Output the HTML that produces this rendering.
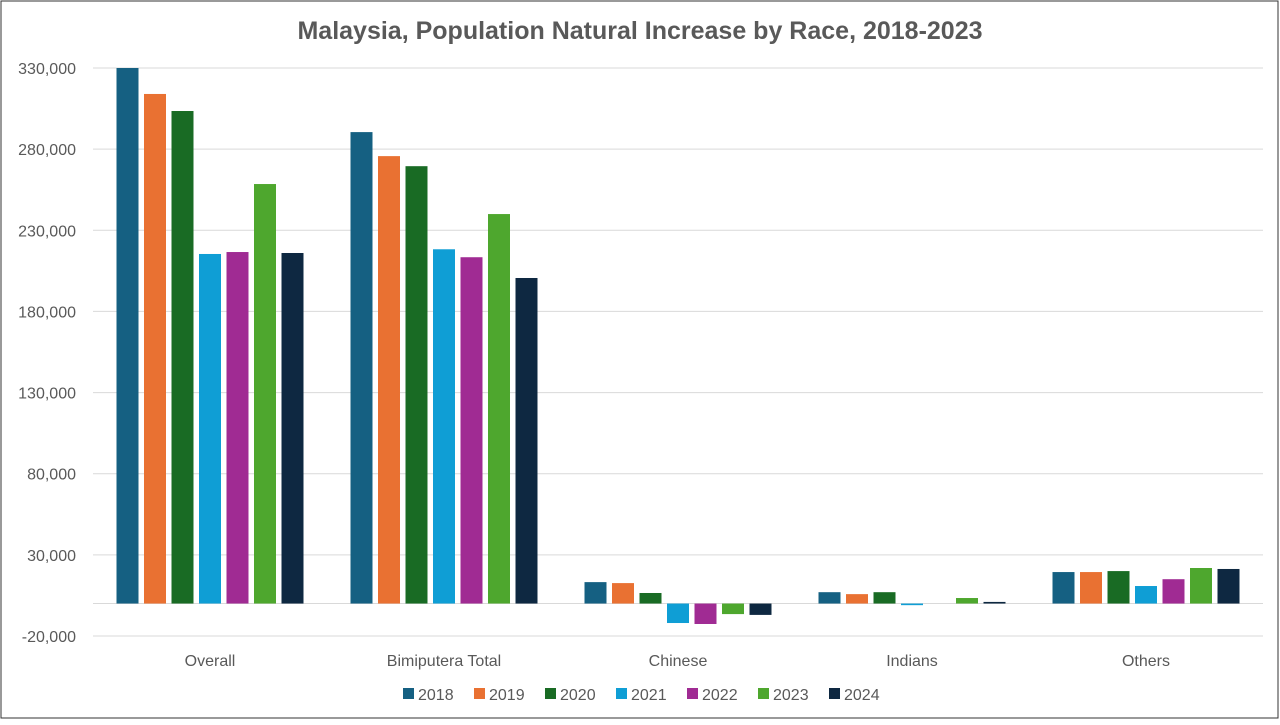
<!DOCTYPE html>
<html><head><meta charset="utf-8"><style>
body{margin:0;background:#fff;font-family:"Liberation Sans",sans-serif}
#wrap{position:relative;width:1280px;height:720px}
</style></head><body>
<div id="wrap">
<svg id="chart" width="1280" height="720">
<rect x="1" y="1" width="1277" height="717" fill="#fff" stroke="#333" stroke-width="1"/>
<text x="640" y="39" text-anchor="middle" font-size="25" font-weight="bold" fill="#595959">Malaysia, Population Natural Increase by Race, 2018-2023</text>
</svg>
</div>
<script>
const categories=["Overall","Bimiputera Total","Chinese","Indians","Others"];
const seriesNames=["2018","2019","2020","2021","2022","2023","2024"];
const colors=["#156082","#E97132","#196B24","#0F9ED5","#A02B93","#4EA72E","#0E2841"];
const v2018=[330000,290500,13200,7000,19400];
const v2019=[314000,275700,12600,5800,19400];
const v2020=[303500,269500,6500,7000,20000];
const v2021=[215400,218300,-12000,-1000,10800];
const v2022=[216600,213400,-12600,0,15000];
const v2023=[258500,240000,-6500,3400,21900];
const v2024=[216000,200600,-7000,1000,21300];
const yTicks=[-20000,30000,80000,130000,180000,230000,280000,330000];
const series=[v2018,v2019,v2020,v2021,v2022,v2023,v2024];
const svg=document.getElementById('chart');
const NS="http://www.w3.org/2000/svg";
const plotL=93,plotR=1263,yMin=-20000,yMax=330000,pxTop=68,pxBot=636;
const y=v=>pxBot-(v-yMin)/(yMax-yMin)*(pxBot-pxTop);
const bandW=(plotR-plotL)/categories.length;
const cx=i=>plotL+bandW*(i+0.5);
function mk(tag,attrs){const e=document.createElementNS(NS,tag);for(const k in attrs)e.setAttribute(k,attrs[k]);svg.appendChild(e);return e;}
yTicks.forEach(t=>{
  const g=mk('line',{x1:plotL,x2:plotR,y1:y(t),y2:y(t),stroke:'#d9d9d9','stroke-width':1});
  
  
  const l=mk('text',{x:76,y:y(t)+6,'text-anchor':'end','font-size':16,fill:'#595959'});
  l.textContent=t.toLocaleString('en-US');
  
  
});
const z=mk('line',{x1:plotL,x2:plotR,y1:y(0),y2:y(0),stroke:'#d9d9d9','stroke-width':1});


const bw=22,step=27.5;
categories.forEach((c,i)=>{
  series.forEach((s,j)=>{
    const x=cx(i)-step*3.5+j*step+2.75;
    const v=s[i];
    const r=mk('rect',{x:x,y:Math.min(y(v),y(0)),width:bw,height:Math.abs(y(v)-y(0)),fill:colors[j]});
    
    
  });
  const t=mk('text',{x:cx(i),y:666,'text-anchor':'middle','font-size':16,fill:'#595959'});
  t.textContent=c;
  
  
});
const legX=[403,474,545,616,687,758,829];
seriesNames.forEach((n,j)=>{
  const r=mk('rect',{x:legX[j],y:688,width:11,height:11,fill:colors[j]});
  
  
  const t=mk('text',{x:legX[j]+15,y:700,'font-size':16,fill:'#595959'});
  t.textContent=n;
  
  
});
</script>
</body></html>
